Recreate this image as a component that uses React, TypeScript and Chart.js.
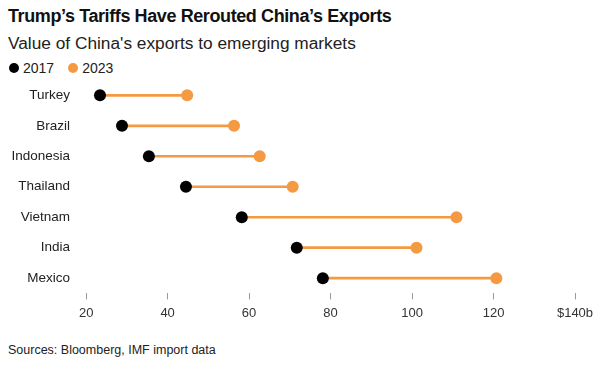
import React, { useEffect, useRef } from "react";
import { Chart, registerables } from "chart.js";

Chart.register(...registerables);

const countries = ["Turkey", "Brazil", "Indonesia", "Thailand", "Vietnam", "India", "Mexico"];
const values2017 = [23.4, 28.8, 35.4, 44.5, 58.2, 71.7, 78.1];
const values2023 = [44.8, 56.3, 62.6, 70.7, 110.9, 101.1, 120.7];
const xTicks = [20, 40, 60, 80, 100, 120, 140];

const ORANGE = "#F39A43";
const FONT = "'Liberation Sans', Arial, sans-serif";

export default function App() {
  const ref = useRef<HTMLCanvasElement>(null);

  useEffect(() => {
    document.body.style.margin = "0";
    const ctx = ref.current!;
    const chart = new Chart(ctx, {
      type: "bar",
      data: {
        labels: countries,
        datasets: [
          {
            type: "line" as any,
            label: "2017",
            data: values2017,
            showLine: false,
            pointRadius: 6,
            pointHoverRadius: 6,
            pointBackgroundColor: "#000",
            pointBorderWidth: 0,
            borderColor: "#000",
            order: 1,
          },
          {
            type: "line" as any,
            label: "2023",
            data: values2023,
            showLine: false,
            pointRadius: 6,
            pointHoverRadius: 6,
            pointBackgroundColor: ORANGE,
            pointBorderWidth: 0,
            borderColor: ORANGE,
            order: 2,
          },
          {
            type: "bar",
            label: "range",
            data: countries.map((_, i) => [values2017[i], values2023[i]]) as any,
            backgroundColor: ORANGE,
            barThickness: 2,
            order: 10,
          },
        ],
      },
      options: {
        indexAxis: "y",
        animation: false,
        responsive: false,
        maintainAspectRatio: false,
        layout: { padding: { left: 0, right: 25, top: 0, bottom: 0 } },
        plugins: { legend: { display: false }, tooltip: { enabled: false }, title: { display: false } },
        scales: {
          x: {
            type: "linear",
            min: 18,
            max: 140,
            afterBuildTicks: (scale: any) => {
              scale.ticks = xTicks.map((v) => ({ value: v }));
            },
            grid: {
              display: true,
              drawOnChartArea: false,
              drawTicks: true,
              tickLength: 6,
              color: "#9a9a9a",
              lineWidth: 1,
            },
            border: { display: false },
            ticks: {
              padding: 6,
              color: "#333",
              font: { family: FONT, size: 13 },
              callback: (v: any) => (v === 140 ? "$140b" : String(v)),
            },
          },
          y: {
            type: "category",
            offset: true,
            grid: { display: false, drawTicks: false },
            border: { display: false },
            afterFit: (scale: any) => {
              scale.width = 78;
            },
            ticks: {
              padding: 8,
              color: "#222",
              font: { family: FONT, size: 13.5 },
            },
          },
        },
      },
    });
    return () => chart.destroy();
  }, []);

  return (
    <div style={{ position: "relative", width: 600, height: 376, background: "#fff", fontFamily: FONT, overflow: "hidden" }}>
      <div style={{ position: "absolute", left: 8, top: 6, fontSize: 18, fontWeight: 700, color: "#111", whiteSpace: "nowrap", letterSpacing: -0.4 }}>
        Trump’s Tariffs Have Rerouted China’s Exports
      </div>
      <div style={{ position: "absolute", left: 8, top: 33, fontSize: 17.3, color: "#222", whiteSpace: "nowrap" }}>
        Value of China's exports to emerging markets
      </div>
      <div style={{ position: "absolute", left: 9, top: 60, fontSize: 14, color: "#222", display: "flex", alignItems: "center", whiteSpace: "nowrap" }}>
        <span style={{ display: "inline-block", width: 10, height: 10, borderRadius: 5, background: "#000", marginRight: 4 }} />
        <span>2017</span>
        <span style={{ display: "inline-block", width: 10, height: 10, borderRadius: 5, background: ORANGE, marginLeft: 14, marginRight: 4 }} />
        <span>2023</span>
      </div>
      <canvas ref={ref} width={600} height={263} style={{ position: "absolute", left: 0, top: 64, width: 600, height: 263 }} />
      <div style={{ position: "absolute", left: 8, top: 343, fontSize: 12.5, color: "#222", whiteSpace: "nowrap" }}>
        Sources: Bloomberg, IMF import data
      </div>
    </div>
  );
}
